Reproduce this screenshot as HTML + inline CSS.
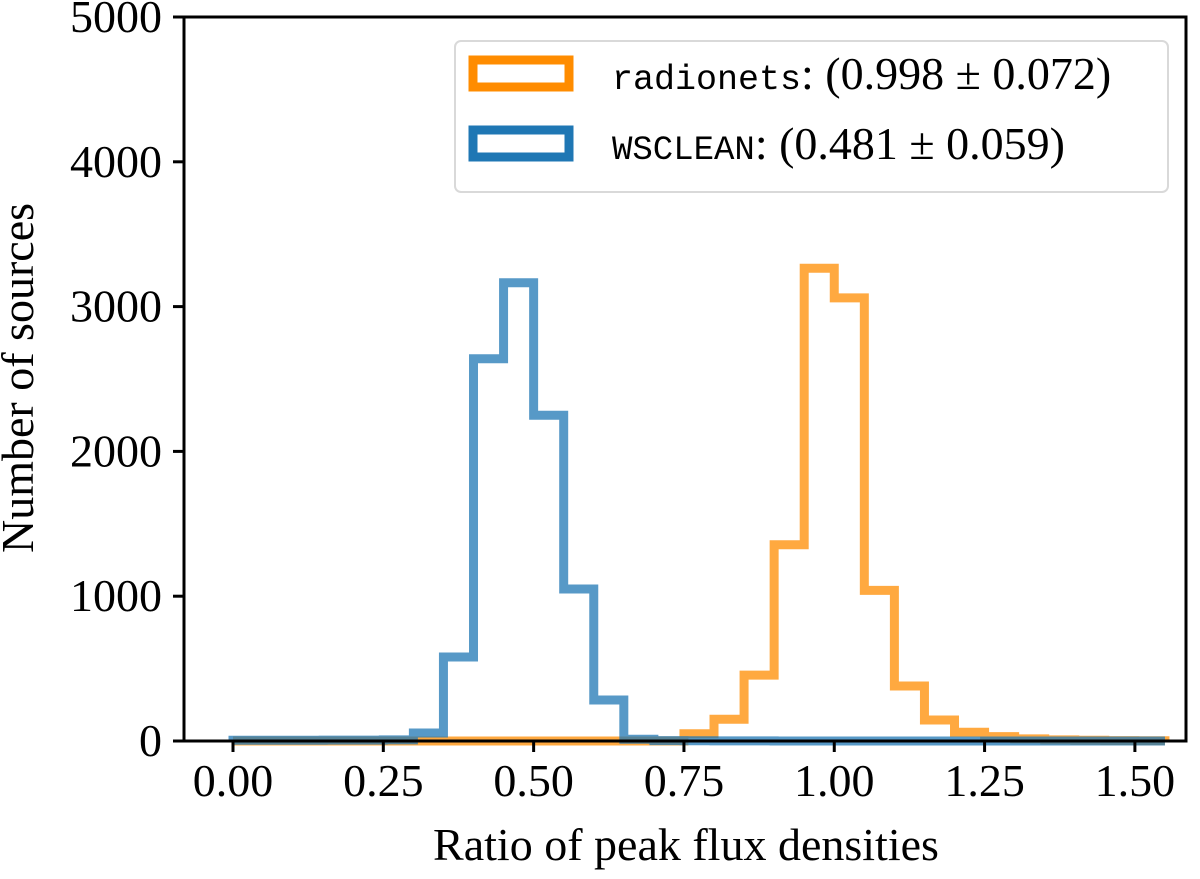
<!DOCTYPE html>
<html><head><meta charset="utf-8"><style>
body{margin:0;background:#fff}
svg{display:block}
text{font-family:"Liberation Serif",serif;fill:#000}
.mono{font-family:"Liberation Mono",monospace}
</style></head><body>
<svg id="chart" width="1200" height="879" viewBox="0 0 1200 879" xmlns="http://www.w3.org/2000/svg">
<g id="plot"></g>
<g id="axes"></g>
<g>
<rect x="455" y="41" width="713" height="151" rx="6" fill="#fff" fill-opacity="0.8" stroke="#d9d9d9" stroke-width="2"/>
<rect x="473" y="60" width="96" height="27" fill="none" stroke="#ff8c00" stroke-width="9"/>
<text x="612" y="89" font-size="46"><tspan class="mono" font-size="35">radionets</tspan>: (0.998 ± 0.072)</text>
<rect x="473" y="130" width="96" height="27" fill="none" stroke="#1f77b4" stroke-width="9"/>
<text x="612" y="159" font-size="46"><tspan class="mono" font-size="34">WSCLEAN</tspan>: (0.481 ± 0.059)</text>
</g>
<text x="686" y="860" font-size="46" text-anchor="middle">Ratio of peak flux densities</text>
<text transform="translate(33,378) rotate(-90)" font-size="46" text-anchor="middle">Number of sources</text>
</svg>
<script>
const binStart = 0.0;
const binWidth = 0.05;
const radionetsCounts = [0,0,0,0,0,0,0,0,0,0,0,0,0,0,0,50,150,455,1355,3265,3060,1040,380,145,60,30,15,8,5,3,2];
const wscleanCounts = [5,5,5,6,6,8,55,580,2640,3165,2250,1050,283,12,3,2,1,1,0,0,0,0,0,0,0,0,0,0,0,0,0];
const xTicks = [0,0.25,0.5,0.75,1.0,1.25,1.5];
const xTickLabels = ["0.00","0.25","0.50","0.75","1.00","1.25","1.50"];
const yTicks = [0,1000,2000,3000,4000,5000];
const yTickLabels = ["0","1000","2000","3000","4000","5000"];

const L=184,R=1186,T=17,B=741;
const xMin=-0.0815,xMax=1.585,yMax=5000;
const sx=v=>L+(v-xMin)/(xMax-xMin)*(R-L);
const sy=v=>B-v/yMax*(B-T);
const NS="http://www.w3.org/2000/svg";
function mk(tag,attrs,parent){const e=document.createElementNS(NS,tag);for(const k in attrs)e.setAttribute(k,attrs[k]);parent.appendChild(e);return e;}
const plot=document.getElementById('plot'),axes=document.getElementById('axes');
function stepPath(counts){
  let d="M"+sx(binStart)+","+sy(0);
  counts.forEach((c,i)=>{const x0=sx(binStart+i*binWidth),x1=sx(binStart+(i+1)*binWidth);d+=" L"+x0+","+sy(c)+" L"+x1+","+sy(c);});
  d+=" L"+sx(binStart+counts.length*binWidth)+","+sy(0);
  return d;
}
const p1=mk('path',{d:stepPath(radionetsCounts),fill:"none",stroke:"#ff8c00","stroke-opacity":0.75,"stroke-width":9,"stroke-linejoin":"miter"},plot);


const p2=mk('path',{d:stepPath(wscleanCounts),fill:"none",stroke:"#1f77b4","stroke-opacity":0.75,"stroke-width":9,"stroke-linejoin":"miter"},plot);


const fr=mk('rect',{x:L,y:T,width:R-L,height:B-T,fill:"none",stroke:"#000","stroke-width":3},axes);


xTicks.forEach((v,i)=>{
  const t=mk('line',{x1:sx(v),x2:sx(v),y1:B,y2:B+11,stroke:"#000","stroke-width":3},axes);
  
  
  const l=mk('text',{x:sx(v),y:B+55,"font-size":46,"text-anchor":"middle"},axes);
  l.textContent=xTickLabels[i];
  
  
});
yTicks.forEach((v,i)=>{
  const t=mk('line',{x1:L-11,x2:L,y1:sy(v),y2:sy(v),stroke:"#000","stroke-width":3},axes);
  
  
  const l=mk('text',{x:L-22,y:sy(v)+15,"font-size":46,"text-anchor":"end"},axes);
  l.textContent=yTickLabels[i];
  
  
});
</script>
</body></html>
